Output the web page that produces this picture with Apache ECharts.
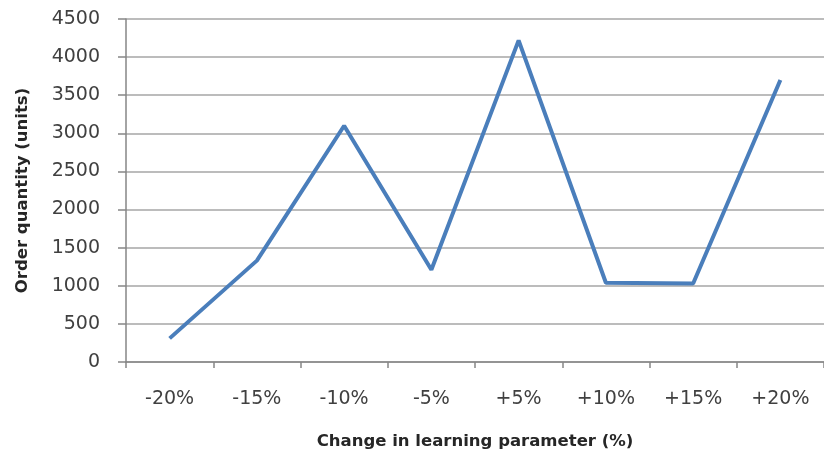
<!DOCTYPE html>
<html>
<head>
<meta charset="utf-8">
<script src="https://cdn.jsdelivr.net/npm/echarts@6/dist/echarts.min.js"></script>
<style>html,body{margin:0;padding:0;background:#fff}#c{width:824px;height:458px}</style>
</head>
<body>
<div id="c"></div>
<script>
const categories = ['-20%', '-15%', '-10%', '-5%', '+5%', '+10%', '+15%', '+20%'];
const orderQuantity = [310, 1330, 3100, 1210, 4220, 1040, 1030, 3700];
const yMin = 0, yMax = 4500, yStep = 500;
const xTitle = 'Change in learning parameter (%)';
const yTitle = 'Order quantity (units)';

const chart = echarts.init(document.getElementById('c'), null, {renderer: 'canvas'});
chart.setOption({
  animation: false,
  backgroundColor: '#ffffff',
  grid: {left: 126, right: -2, top: 19, bottom: 96, containLabel: false},
  xAxis: {
    type: 'category',
    data: categories,
    boundaryGap: true,
    name: xTitle,
    nameLocation: 'middle',
    nameGap: 71,
    nameTextStyle: {fontFamily: 'DejaVu Sans', fontWeight: 'bold', fontSize: 16.5, color: '#262626'},
    axisLine: {lineStyle: {color: '#868686', width: 1.5}},
    axisTick: {show: true, length: 6, lineStyle: {color: '#868686', width: 1.5}},
    axisLabel: {fontFamily: 'DejaVu Sans', fontSize: 19, color: '#404040', margin: 28},
    splitLine: {show: false}
  },
  yAxis: {
    type: 'value',
    min: yMin, max: yMax, interval: yStep,
    name: yTitle,
    nameLocation: 'middle',
    nameGap: 95,
    nameRotate: 90,
    nameTextStyle: {fontFamily: 'DejaVu Sans', fontWeight: 'bold', fontSize: 16.5, color: '#262626'},
    axisLine: {show: true, lineStyle: {color: '#868686', width: 1.5}},
    axisTick: {show: true, length: 8, lineStyle: {color: '#868686', width: 1.5}},
    axisLabel: {fontFamily: 'DejaVu Sans', fontSize: 19, color: '#404040', margin: 26,
      formatter: v => String(v)},
    splitLine: {show: true, lineStyle: {color: '#a6a6a6', width: 1.5}}
  },
  series: [{
    type: 'line',
    data: orderQuantity,
    symbol: 'none',
    lineStyle: {color: '#4a7ebb', width: 4},
    itemStyle: {color: '#4a7ebb'}
  }]
});
</script>
</body>
</html>
